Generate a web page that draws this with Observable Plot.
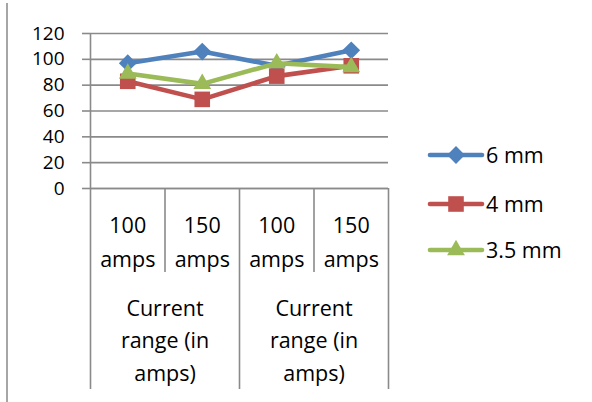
<!DOCTYPE html>
<html>
<head>
<meta charset="utf-8">
<script src="https://cdn.jsdelivr.net/npm/d3@7"></script>
<script src="https://cdn.jsdelivr.net/npm/@observablehq/plot@0.6"></script>
<style>
  body { margin: 0; background: #fff; }
  #chart { position: relative; width: 592px; height: 402px; overflow: hidden; }
  #chart .frame { position: absolute; left: 6px; top: 3px; width: 2px; height: 399px; background: #a6a6a6; }
  #chart svg { position: absolute; left: 0; top: 0; }
</style>
</head>
<body>
<div id="chart"><div class="frame"></div></div>
<script>
// Inner category labels (current) and outer group labels
const currents = ["100\namps", "150\namps", "100\namps", "150\namps"];
const groups = ["Current\nrange (in\namps)", "Current\nrange (in\namps)"];

// Series names, colours, markers
const seriesNames = ["6 mm", "4 mm", "3.5 mm"];
const seriesColors = ["#4F81BD", "#C0504D", "#9BBB59"];
const seriesSymbols = ["diamond2", "square", "triangle"];

// Values per series, one per current category
const mm6 = [97, 106, 95, 107];
const mm4 = [83, 69, 87, 95];
const mm35 = [89, 81, 97, 94];

const yTicks = [0, 20, 40, 60, 80, 100, 120];

const values = [mm6, mm4, mm35];
const rows = values.flatMap((vals, s) =>
  vals.map((v, i) => ({series: seriesNames[s], s, i, x: i + 0.5, value: v}))
);

const FONT = "'Open Sans', Lato, sans-serif";
const FS = 21.5;
const FS_Y = 19;
const grid = "#8a8a8a";

// plot area geometry
const mTop = 33, mBottom = 214, mLeft = 90, mRight = 204;
const H = 402;
const innerH = H - mTop - mBottom;
// converts a pixel distance below the x axis into y units
const below = px => -px * 120 / innerH;

const markSize = {diamond2: 8, square: 8.8, triangle: 6.6};

const marks = [
  Plot.gridY(yTicks, {stroke: grid, strokeOpacity: 1, strokeWidth: 1.6}),
  Plot.axisY(yTicks, {
    tickSize: 8, tickPadding: 18, stroke: grid, strokeWidth: 1.6,
    fill: "#000", fontSize: FS_Y, fontFamily: FONT, label: null
  }),
  // y axis line
  Plot.ruleX([0], {y1: 0, y2: 120, stroke: grid, strokeWidth: 1.6}),
  // x axis line
  Plot.ruleY([0], {x1: 0, x2: 4, stroke: grid, strokeWidth: 1.6}),
  // group separators (tall) and category separators (short)
  Plot.ruleX([0, 2, 4], {y1: 0, y2: below(201), stroke: grid, strokeWidth: 1.6}),
  Plot.ruleX([1, 3], {y1: 0, y2: below(84), stroke: grid, strokeWidth: 1.6}),
  // category labels
  Plot.text(currents, {
    x: (d, i) => i + 0.5, y: below(51), text: d => d,
    fontSize: FS, fontFamily: FONT, lineHeight: 1.58, fill: "#000"
  }),
  Plot.text(groups, {
    x: (d, i) => i * 2 + 1, y: below(149.5), text: d => d,
    fontSize: FS, fontFamily: FONT, lineHeight: 1.5, fill: "#000"
  })
];

// each series: line then markers, drawn in series order
seriesNames.forEach((name, s) => {
  const data = rows.filter(d => d.s === s);
  marks.push(
    Plot.line(data, {x: "x", y: "value", stroke: seriesColors[s], strokeWidth: 4.6, strokeLinejoin: "round", strokeLinecap: "round"}),
    Plot.dot(data, {x: "x", y: "value", symbol: () => seriesSymbols[s], fill: seriesColors[s], stroke: "none", r: markSize[seriesSymbols[s]]})
  );
});

const svg = Plot.plot({
  width: 592,
  height: H,
  marginTop: mTop,
  marginBottom: mBottom,
  marginLeft: mLeft,
  marginRight: mRight,
  x: {type: "linear", domain: [0, 4], axis: null},
  y: {domain: [0, 120], axis: null},
  symbol: {type: "identity"},
  clip: false,
  style: {background: "transparent", overflow: "visible"},
  marks
});

// legend on the right
const leg = d3.select(svg).append("g");
const legY = [155, 204, 250];
seriesNames.forEach((name, s) => {
  const g = leg.append("g").attr("transform", `translate(0,${legY[s]})`);
  g.append("line").attr("x1", 430).attr("x2", 482).attr("y1", 0).attr("y2", 0)
    .attr("stroke", seriesColors[s]).attr("stroke-width", 4.6).attr("stroke-linecap", "round");
  const sym = {diamond2: d3.symbolDiamond2, square: d3.symbolSquare, triangle: d3.symbolTriangle}[seriesSymbols[s]];
  const r = markSize[seriesSymbols[s]];
  g.append("path").attr("transform", "translate(456,0)")
    .attr("d", d3.symbol(sym, Math.PI * r * r)()).attr("fill", seriesColors[s]);
  g.append("text").attr("x", 486).attr("y", 0).attr("dy", "0.35em")
    .attr("text-anchor", "start")
    .attr("font-family", FONT).attr("font-size", FS).attr("fill", "#000").text(name);
});

document.getElementById("chart").appendChild(svg);
</script>
</body>
</html>
